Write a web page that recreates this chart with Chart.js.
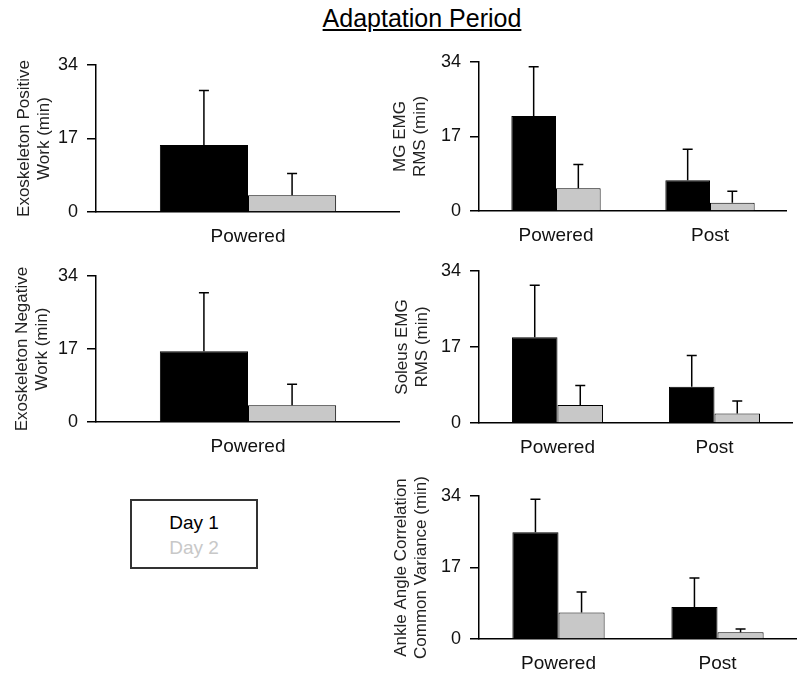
<!DOCTYPE html>
<html>
<head>
<meta charset="utf-8">
<script src="https://cdn.jsdelivr.net/npm/chart.js@4.4.0/dist/chart.umd.min.js"></script>
<style>
  body { margin: 0; background: #fff; font-family: "Liberation Sans", Arial, sans-serif; }
  #wrap { position: relative; width: 800px; height: 673px; overflow: hidden; }
  canvas { position: absolute; }
  #title { position: absolute; left: 312px; top: 4px; width: 220px; text-align: center;
           font-size: 25px; line-height: 29px; text-decoration: underline; white-space: nowrap; }
  #legend { position: absolute; left: 130px; top: 499px; width: 124px; height: 57px;
            border: 2px solid #333; text-align: center; font-size: 19px; line-height: 25px;
            padding-top: 9px; }
</style>
</head>
<body>
<div id="wrap">
  <div id="title">Adaptation Period</div>
  <canvas id="c1"></canvas>
  <canvas id="c2"></canvas>
  <canvas id="c3"></canvas>
  <canvas id="c4"></canvas>
  <canvas id="c5"></canvas>
  <div id="legend"><div style="color:#000">Day 1</div><div style="color:#c8c8c8">Day 2</div></div>
</div>
<script>
const oneCat = ['Powered'];
const twoCat = ['Powered', 'Post'];
const yTicks = [0, 17, 34];

// means and SD (upward error bars)
const posWorkDay1 = [15.5], posWorkDay1Sd = [12.6];
const posWorkDay2 = [3.9],  posWorkDay2Sd = [5.0];

const negWorkDay1 = [16.5], negWorkDay1Sd = [13.6];
const negWorkDay2 = [3.9],  negWorkDay2Sd = [4.9];

const mgDay1 = [21.7, 7.0], mgDay1Sd = [11.2, 7.1];
const mgDay2 = [5.2, 1.9],  mgDay2Sd = [5.4, 2.6];

const solDay1 = [19.2, 8.1], solDay1Sd = [11.6, 7.0];
const solDay2 = [4.0, 2.1],  solDay2Sd = [4.4, 2.8];

const ankDay1 = [25.4, 7.6], ankDay1Sd = [7.8, 6.9];
const ankDay2 = [6.3, 1.6],  ankDay2Sd = [4.9, 0.8];

Chart.defaults.font.family = '"Liberation Sans", Arial, sans-serif';
Chart.defaults.color = '#111';

const errorBars = {
  id: 'errorBars',
  afterDatasetsDraw(chart) {
    const ctx = chart.ctx;
    const y = chart.scales.y;
    ctx.save();
    ctx.strokeStyle = '#000';
    ctx.lineWidth = 1.5;
    chart.data.datasets.forEach((ds, i) => {
      chart.getDatasetMeta(i).data.forEach((bar, j) => {
        const top = y.getPixelForValue(ds.data[j] + ds.errors[j]);
        ctx.beginPath();
        ctx.moveTo(bar.x, bar.y);
        ctx.lineTo(bar.x, top);
        ctx.moveTo(bar.x - 5, top);
        ctx.lineTo(bar.x + 5, top);
        ctx.stroke();
      });
    });
    ctx.restore();
  }
};

function panel(id, box, labels, d1, s1, d2, s2, yTitle, titlePad) {
  const cv = document.getElementById(id);
  const padTop = 24, xH = 34;
  cv.width = box.r - box.cx;
  cv.height = (box.b - box.t) + padTop + xH;
  cv.style.left = box.cx + 'px';
  cv.style.top = (box.t - padTop) + 'px';
  return new Chart(cv, {
    type: 'bar',
    data: {
      labels: labels,
      datasets: [
        { label: 'Day 1', data: d1, errors: s1, backgroundColor: '#000', borderColor: '#000', borderWidth: 1 },
        { label: 'Day 2', data: d2, errors: s2, backgroundColor: '#c8c8c8', borderColor: '#000', borderWidth: 1 }
      ]
    },
    options: {
      responsive: false,
      animation: false,
      events: [],
      layout: { padding: { top: padTop, left: 0, right: 0, bottom: 0 } },
      datasets: { bar: { barPercentage: 1, categoryPercentage: 0.58 } },
      plugins: { legend: { display: false }, tooltip: { enabled: false } },
      scales: {
        x: {
          grid: { display: false },
          border: { display: true, color: '#000', width: 1.5 },
          ticks: { font: { size: 19 }, color: '#111', padding: 5 },
          afterFit: s => { s.height = xH; }
        },
        y: {
          min: 0, max: 34,
          afterBuildTicks: s => { s.ticks = yTicks.map(v => ({ value: v })); },
          grid: { drawOnChartArea: false, drawTicks: true, tickLength: 9, color: '#000', lineWidth: 1.5 },
          border: { display: true, color: '#000', width: 1.5 },
          ticks: { font: { size: 18 }, color: '#111', padding: 9 },
          title: { display: true, text: yTitle, font: { size: 17, lineHeight: 1.2 }, color: '#222',
                   padding: { top: titlePad, bottom: 0 } },
          afterFit: s => { s.width = box.l - box.cx; s.paddingTop = 0; s.paddingBottom = 0; }
        }
      }
    },
    plugins: [errorBars]
  });
}

panel('c1', { cx: 0, l: 96, t: 65, b: 212, r: 400 }, oneCat,
  posWorkDay1, posWorkDay1Sd, posWorkDay2, posWorkDay2Sd, ['Exoskeleton Positive', 'Work (min)'], 14);
panel('c2', { cx: 380, l: 479, t: 62, b: 211, r: 787 }, twoCat,
  mgDay1, mgDay1Sd, mgDay2, mgDay2Sd, ['MG EMG', 'RMS (min)'], 10);
panel('c3', { cx: 0, l: 96, t: 276, b: 422, r: 400 }, oneCat,
  negWorkDay1, negWorkDay1Sd, negWorkDay2, negWorkDay2Sd, ['Exoskeleton Negative', 'Work (min)'], 12);
panel('c4', { cx: 380, l: 479, t: 271, b: 423, r: 793 }, twoCat,
  solDay1, solDay1Sd, solDay2, solDay2Sd, ['Soleus EMG', 'RMS (min)'], 12);
panel('c5', { cx: 380, l: 479, t: 496, b: 639, r: 797 }, twoCat,
  ankDay1, ankDay1Sd, ankDay2, ankDay2Sd, ['Ankle Angle Correlation', 'Common Variance (min)'], 11);
</script>
</body>
</html>
